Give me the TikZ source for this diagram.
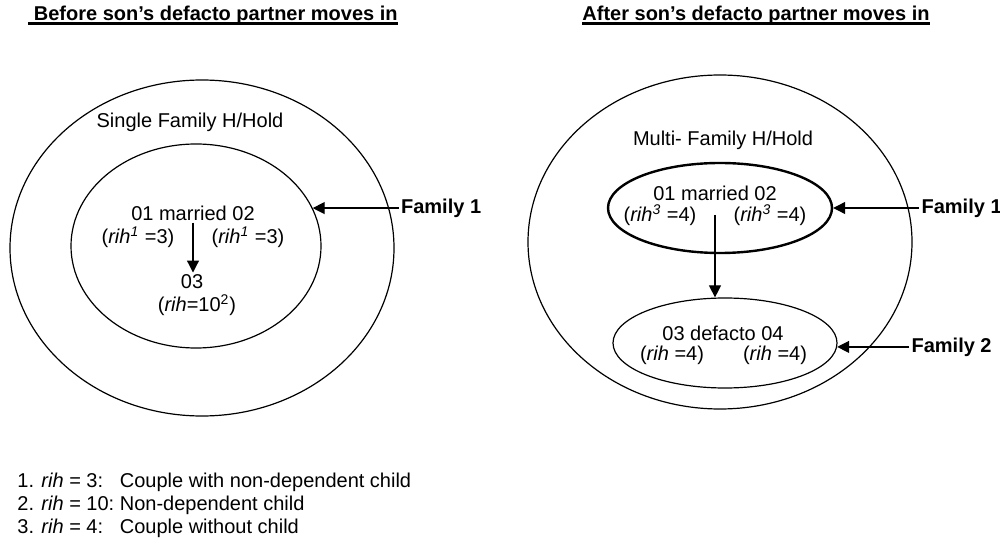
\documentclass[tikz,border=0pt]{standalone}
\usepackage{fontspec}
\setmainfont{Liberation Sans}
\usepackage{tikz}
\usetikzlibrary{shapes.geometric,positioning,arrows.meta}

\begin{document}
\begin{tikzpicture}[x=0.5pt,y=-0.5pt]
        \tikzset{hold/.style = {shape=ellipse,draw,line width=0.6pt,inner sep=0pt}}
        \tikzset{txt/.style = {inner sep=1pt}}
        \tikzset{famtag/.style = {font=\bfseries,inner sep=1pt,anchor=west}}
        \tikzset{heading/.style = {font=\bfseries,inner sep=0pt}}
        \tikzset{uline/.style = {line width=1.4pt}}
        \tikzset{edge/.style = {-{Triangle[length=6pt,width=6pt]},line width=0.6pt}}

        \useasboundingbox (0,0) rectangle (1000,539);

        % titles
        \node[heading] (t1) at (213,15) {\ Before son’s defacto partner moves in};
        \node[heading] (t2) at (756,15) {After son’s defacto partner moves in};
        \draw[uline] ([yshift=-1.5pt]t1.base west) -- ([yshift=-1.5pt]t1.base east);
        \draw[uline] ([yshift=-1.5pt]t2.base west) -- ([yshift=-1.5pt]t2.base east);

        % before: single family household
        \node[hold, minimum width=192pt, minimum height=168pt] (hhA) at (202,248) {};
        \node[hold, minimum width=125pt, minimum height=102pt] (famA) at (196,246) {};
        \node[txt] (hhAname) at (190,122) {Single Family H/Hold};
        \node[txt] (pA) at (193,213) {01 married 02};
        \node[txt] (rA1) at (138,237) {(\textit{rih}\textsuperscript{\itshape 1} =3)};
        \node[txt] (rA2) at (248,237) {(\textit{rih}\textsuperscript{\itshape 1} =3)};
        \node[txt] (cA) at (192,282) {03};
        \node[txt] (rA3) at (197,305) {(\textit{rih}=10\textsuperscript{2})};
        \node[famtag, right=43pt of famA.18] (fA) {Family 1};

        % after: multi family household
        \node[hold, minimum width=192pt, minimum height=167pt] (hhB) at (720,242) {};
        \node[hold, line width=1.2pt, minimum width=112pt, minimum height=45pt] (famB1) at (720,208) {};
        \node[hold, minimum width=112pt, minimum height=45pt] (famB2) at (725,343) {};
        \node[txt] (hhBname) at (723,140) {Multi- Family H/Hold};
        \node[txt] (pB) at (715,193) {01 married 02};
        \node[txt] (rB1) at (660,215) {(\textit{rih}\textsuperscript{\itshape 3} =4)};
        \node[txt] (rB2) at (770,215) {(\textit{rih}\textsuperscript{\itshape 3} =4)};
        \node[txt] (pC) at (723,333) {03 defacto 04};
        \node[txt] (rC1) at (672,355) {(\textit{rih} =4)};
        \node[txt] (rC2) at (775,355) {(\textit{rih} =4)};
        \node[famtag, right=43pt of famB1.east] (fB1) {Family 1};
        \node[famtag, right=36pt of famB2.-2] (fB2) {Family 2};

        % notes
        \node[anchor=north west, inner sep=0pt, font=\fontsize{10}{11.5}\selectfont] (notes) at (17,471) {%
            \begin{tabular}{@{}l@{\ }l@{}}
                1. \textit{rih} = 3: & Couple with non-dependent child\\
                2. \textit{rih} = 10: & Non-dependent child\\
                3. \textit{rih} = 4: & Couple without child
            \end{tabular}};

        %edges
        \draw[edge] (pA.south) -- (pA.south |- cA.north);
        \draw[edge] (fA.west) -- (famA.18);
        \draw[edge] (pB.south |- rB1) -- (pB.south |- famB2.north);
        \draw[edge] (fB1.west) -- (famB1.east);
        \draw[edge] (fB2.west) -- (famB2.-2);

    \end{tikzpicture}
\end{document}
